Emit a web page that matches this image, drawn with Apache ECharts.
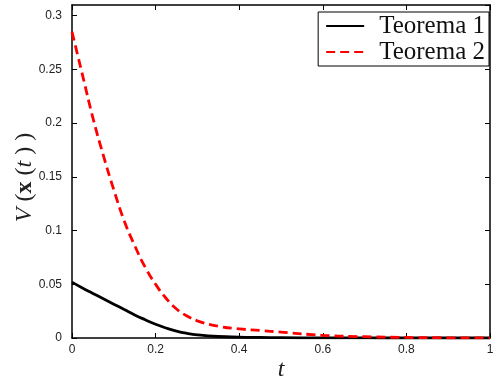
<!DOCTYPE html>
<html>
<head>
<meta charset="utf-8">
<script src="https://cdn.jsdelivr.net/npm/echarts@6/dist/echarts.min.js"></script>
<style>
  html, body { margin: 0; padding: 0; background: #fff; }
  #chart { width: 500px; height: 381px; }
</style>
</head>
<body>
<div id="chart"></div>
<script>
// time samples
const tValues = [0, 0.025, 0.05, 0.075, 0.1, 0.125, 0.15, 0.175, 0.2, 0.225, 0.25, 0.275, 0.3, 0.35, 0.4, 0.45, 0.5, 0.6, 0.7, 0.8, 0.9, 1];
// Teorema 1
const teorema1 = [0.052, 0.0465, 0.0415, 0.0365, 0.0315, 0.0265, 0.0215, 0.017, 0.0128, 0.0093, 0.0064, 0.0043, 0.0029, 0.0014, 0.0008, 0.0005, 0.0003, 0.0001, 0.00005, 0, 0, 0];
// Teorema 2
const teorema2 = [0.285, 0.245, 0.205, 0.17, 0.138, 0.109, 0.086, 0.066, 0.05, 0.037, 0.027, 0.0205, 0.016, 0.011, 0.0085, 0.007, 0.0055, 0.0025, 0.0012, 0.0005, 0.0002, 0.0001];
const seriesNames = ['Teorema 1', 'Teorema 2'];

const pairs = (ys) => tValues.map((t, i) => [t, ys[i]]);

const chart = echarts.init(document.getElementById('chart'));

const axisLine = { show: true, onZero: false, lineStyle: { color: '#000', width: 1.5 } };
const tickIn = { show: true, inside: true, length: 5, lineStyle: { color: '#000', width: 1 } };
const labelFont = { color: '#222', fontFamily: 'Liberation Sans, Arial, sans-serif', fontSize: 12 };
const serif = 'Liberation Serif, Times New Roman, serif';

const option = {
  animation: false,
  grid: { left: 72, right: 10, top: 5, bottom: 43, containLabel: false, outerBoundsMode: 'none' },
  legend: {
    orient: 'vertical',
    right: 11,
    top: 12,
    backgroundColor: '#fff',
    borderColor: '#000',
    borderWidth: 1,
    borderRadius: 0,
    padding: [1, 4, 1, 7],
    itemGap: 0,
    itemWidth: 38,
    itemHeight: 26,
    itemStyle: { opacity: 0 },
    textStyle: { fontFamily: serif, fontSize: 25, color: '#111', padding: [0, 0, 0, 10], lineHeight: 26 },
    data: seriesNames
  },
  xAxis: [
    {
      type: 'value', min: 0, max: 1, interval: 0.2,
      position: 'bottom',
      name: '{t|t}',
      nameLocation: 'middle',
      nameGap: 20,
      nameMoveOverlap: false,
      nameTextStyle: {
        rich: { t: { fontFamily: serif, fontStyle: 'italic', fontSize: 24, color: '#222' } }
      },
      axisLine: axisLine,
      axisTick: tickIn,
      axisLabel: Object.assign({ margin: 6 }, labelFont),
      splitLine: { show: false }
    },
    {
      type: 'value', min: 0, max: 1, interval: 0.2,
      position: 'top',
      axisLine: axisLine,
      axisTick: tickIn,
      axisLabel: { show: false },
      splitLine: { show: false }
    }
  ],
  yAxis: [
    {
      type: 'value', min: 0, max: 0.31, interval: 0.05,
      position: 'left',
      name: '{i|V}{n| (}{b|x}{n| (}{i|t}{n| ) )}{s|}',
      nameLocation: 'middle',
      nameRotate: 90,
      nameGap: 35,
      nameMoveOverlap: false,
      nameTextStyle: {
        rich: {
          i: { fontFamily: serif, fontStyle: 'italic', fontSize: 24, color: '#222' },
          n: { fontFamily: serif, fontSize: 24, color: '#222' },
          b: { fontFamily: serif, fontWeight: 'bold', fontSize: 24, color: '#222' },
          s: { width: 12 }
        }
      },
      axisLine: axisLine,
      axisTick: tickIn,
      axisLabel: Object.assign({ margin: 10, showMaxLabel: false }, labelFont),
      splitLine: { show: false }
    },
    {
      type: 'value', min: 0, max: 0.31, interval: 0.05,
      position: 'right',
      axisLine: axisLine,
      axisTick: tickIn,
      axisLabel: { show: false },
      splitLine: { show: false }
    }
  ],
  series: [
    {
      name: seriesNames[0],
      type: 'line',
      smooth: 0.5,
      showSymbol: false,
      symbol: 'none',
      data: pairs(teorema1),
      itemStyle: { color: '#000' },
      lineStyle: { color: '#000', width: 2.8, type: 'solid' },
      z: 3
    },
    {
      name: seriesNames[1],
      type: 'line',
      smooth: 0.5,
      showSymbol: false,
      symbol: 'none',
      data: pairs(teorema2),
      itemStyle: { color: '#ff0000' },
      lineStyle: { color: '#ff0000', width: 2.8, type: [9, 5] },
      z: 4
    }
  ]
};

chart.setOption(option);
</script>
</body>
</html>
